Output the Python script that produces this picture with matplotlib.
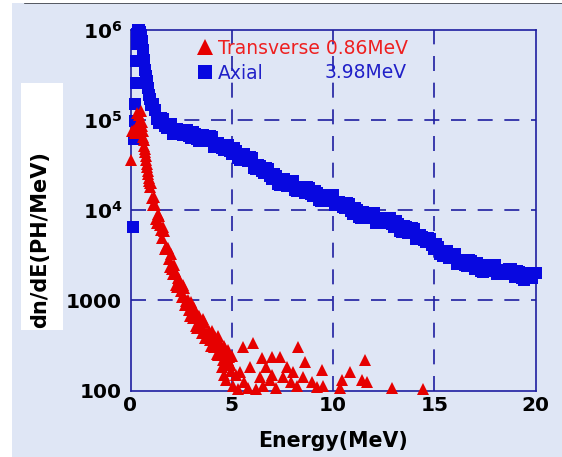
import matplotlib
matplotlib.use("Agg")
import matplotlib.pyplot as plt
from matplotlib.lines import Line2D
from matplotlib.patches import Rectangle
from matplotlib.ticker import FixedLocator, FixedFormatter, NullLocator

# ---------------- data ----------------
# Axial spectrum: low-energy peak and its fall-off
axial_peak_energy = [0.12, 0.17, 0.22, 0.24, 0.26, 0.28, 0.30, 0.33, 0.36, 0.40,
                     0.44, 0.48, 0.52, 0.56, 0.60, 0.65, 0.70, 0.75, 0.85, 0.95]
axial_peak_counts = [6500, 61000, 97000, 150000, 260000, 450000, 700000, 900000,
                     1000000, 960000, 1000000, 940000, 870000, 750000, 600000,
                     470000, 360000, 310000, 225000, 170000]

# Axial spectrum: even 0.2 MeV bins, 0.8 - 20 MeV
axial_energy_a = [0.8, 1.0, 1.2, 1.4, 1.6, 1.8, 2.0, 2.2, 2.4, 2.6,
                  2.8, 3.0, 3.2, 3.4, 3.6, 3.8, 4.0, 4.2, 4.4, 4.6,
                  4.8, 5.0, 5.2, 5.4, 5.6, 5.8, 6.0, 6.2, 6.4, 6.6,
                  6.8, 7.0, 7.2, 7.4, 7.6, 7.8, 8.0, 8.2, 8.4, 8.6,
                  8.8, 9.0, 9.2, 9.4, 9.6, 9.8, 10.0, 10.2, 10.4, 10.6,
                  10.8, 11.0, 11.2, 11.4, 11.6, 11.8, 12.0, 12.2, 12.4, 12.6,
                  12.8, 13.0, 13.2, 13.4, 13.6, 13.8, 14.0, 14.2, 14.4, 14.6,
                  14.8, 15.0, 15.2, 15.4, 15.6, 15.8, 16.0, 16.2, 16.4, 16.6,
                  16.8, 17.0, 17.2, 17.4, 17.6, 17.8, 18.0, 18.2, 18.4, 18.6,
                  18.8, 19.0, 19.2, 19.4, 19.6, 19.8, 20.0]
axial_counts_a = [275000, 147000, 130000, 92000, 102000, 82500, 90000, 71000, 76500, 69000,
                  78000, 64000, 71000, 59000, 68500, 59000, 65000, 50000, 53000, 47000,
                  53000, 42000, 46000, 36000, 42000, 35000, 38000, 29000, 31000, 26000,
                  29000, 22000, 24000, 19000, 22000, 19000, 21000, 16500, 17700, 15700,
                  17700, 14300, 15500, 12600, 14800, 13000, 14600, 11300, 12000, 10500,
                  11700, 9200, 10000, 8100, 9400, 8300, 9300, 7400, 8050, 7200,
                  8100, 6550, 7050, 5700, 6600, 5700, 6250, 4800, 5100, 4400,
                  4850, 3750, 3950, 3080, 3530, 2960, 3250, 2520, 2700, 2420,
                  2760, 2250, 2490, 2050, 2440, 2170, 2460, 1970, 2160, 1960,
                  2240, 1840, 2040, 1690, 2010, 1780, 2020]

# Axial spectrum: odd 0.2 MeV bins, 0.9 - 19.9 MeV
axial_energy_b = [0.9, 1.1, 1.3, 1.5, 1.7, 1.9, 2.1, 2.3, 2.5, 2.7,
                  2.9, 3.1, 3.3, 3.5, 3.7, 3.9, 4.1, 4.3, 4.5, 4.7,
                  4.9, 5.1, 5.3, 5.5, 5.7, 5.9, 6.1, 6.3, 6.5, 6.7,
                  6.9, 7.1, 7.3, 7.5, 7.7, 7.9, 8.1, 8.3, 8.5, 8.7,
                  8.9, 9.1, 9.3, 9.5, 9.7, 9.9, 10.1, 10.3, 10.5, 10.7,
                  10.9, 11.1, 11.3, 11.5, 11.7, 11.9, 12.1, 12.3, 12.5, 12.7,
                  12.9, 13.1, 13.3, 13.5, 13.7, 13.9, 14.1, 14.3, 14.5, 14.7,
                  14.9, 15.1, 15.3, 15.5, 15.7, 15.9, 16.1, 16.3, 16.5, 16.7,
                  16.9, 17.1, 17.3, 17.5, 17.7, 17.9, 18.1, 18.3, 18.5, 18.7,
                  18.9, 19.1, 19.3, 19.5, 19.7, 19.9]
axial_counts_b = [192000, 151000, 103000, 105000, 85000, 90000, 70000, 79000, 70000, 78500,
                  67000, 74500, 61000, 69000, 59000, 66000, 50000, 56000, 48500, 53000,
                  45000, 48600, 37800, 42000, 35700, 38500, 29400, 31900, 27600, 29400,
                  24000, 25400, 19800, 22000, 18800, 21200, 16600, 18300, 16200, 17900,
                  15200, 16400, 13100, 14700, 12800, 14500, 11300, 12500, 10900, 11900,
                  9900, 10600, 8460, 9450, 8180, 9300, 7300, 8240, 7410, 8180,
                  6960, 7510, 5940, 6620, 5640, 6330, 4850, 5300, 4660, 4960,
                  4080, 4270, 3290, 3570, 2960, 3270, 2520, 2790, 2470, 2770,
                  2380, 2610, 2120, 2420, 2120, 2440, 1940, 2200, 2000, 2250,
                  1940, 2140, 1750, 2000, 1750, 2000]

# Transverse spectrum
transverse_energy = [0.02, 0.08, 0.15, 0.20, 0.25, 0.30, 0.35, 0.40, 0.45, 0.50,
                     0.55, 0.58, 0.60, 0.62, 0.65, 0.68, 0.70, 0.72, 0.75, 0.78,
                     0.80, 0.82, 0.85, 0.88, 0.90, 0.92, 0.95, 0.98,
                     1.0, 1.1, 1.2, 1.3, 1.4, 1.5, 1.6, 1.7, 1.8, 1.9,
                     2.0, 2.1, 2.2, 2.3, 2.4, 2.5, 2.6, 2.7, 2.8, 2.9,
                     3.0, 3.1, 3.2, 3.3, 3.4, 3.5, 3.6, 3.7, 3.8, 3.9,
                     4.0, 4.1, 4.2, 4.3, 4.4, 4.5, 4.6, 4.7, 4.8, 4.9, 5.0,
                     1.05, 1.15, 1.25, 1.35, 1.45, 1.55, 1.65, 1.75, 1.85, 1.95,
                     2.05, 2.15, 2.25, 2.35, 2.45, 2.55, 2.65, 2.75, 2.85, 2.95,
                     3.05, 3.15, 3.25, 3.35, 3.45, 3.55, 3.65, 3.75, 3.85, 3.95,
                     4.05, 4.15, 4.25, 4.35, 4.45, 4.55, 4.65, 4.75, 4.85, 4.95,
                     4.3, 4.5, 4.6, 4.7, 4.83, 4.91, 5.07, 5.2, 5.3, 5.4,
                     5.57, 5.6, 5.81, 5.9, 6.06, 6.2, 6.39, 6.47, 6.56, 6.7,
                     6.89, 6.97, 7.0, 7.2, 7.38, 7.54, 7.71, 7.9, 8.04, 8.2,
                     8.28, 8.5, 8.61, 8.97, 9.2, 9.44, 9.52, 10.34, 10.42, 10.83,
                     11.41, 11.57, 11.66, 12.89, 14.45]
transverse_counts = [36000, 76000, 78000, 72000, 80000, 120000, 90000, 115000, 100000, 125000,
                     95000, 85000, 75000, 65000, 60000, 52000, 48000, 44000, 40000, 36000,
                     33000, 30000, 27000, 25000, 23000, 21000, 20000, 18000,
                     20000, 11500, 11500, 7200, 8600, 6000, 6600, 3700, 3800, 2900,
                     3250, 1950, 2100, 1400, 1720, 1280, 1500, 890, 980, 790,
                     960, 630, 710, 500, 670, 510, 625, 380, 430, 365,
                     455, 300, 345, 250, 335, 255, 310, 195, 220, 190, 240,
                     13700, 14000, 8000, 9000, 6900, 4900, 5900, 3900, 3850, 2360,
                     2250, 2470, 1500, 1780, 1420, 1080, 1370, 980, 1020, 670,
                     690, 820, 520, 670, 560, 440, 580, 430, 460, 314,
                     330, 390, 256, 330, 280, 220, 290, 217, 236, 164,
                     400, 180, 150, 130, 280, 196, 112, 150, 105, 160,
                     305, 125, 107, 180, 333, 105, 140, 230, 112, 180,
                     130, 237, 150, 107, 237, 140, 180, 125, 160, 112,
                     305, 140, 209, 124, 110, 168, 112, 107, 130, 161,
                     130, 217, 124, 107, 103]

legend_labels = ["Transverse 0.86MeV", "Axial"]
axial_mean_label = "3.98MeV"

x_ticks = [0, 5, 10, 15, 20]
y_ticks = [1e2, 1e3, 1e4, 1e5, 1e6]
y_tick_labels = ["100", "1000", r"$10^4$", r"$10^5$", r"$10^6$"]

# ---------------- style ----------------
BG = "#dfe6f5"
NAVY = "#1e1ea0"
BLUE = "#0808e0"
RED = "#e60000"

plt.rcParams["font.family"] = ["DejaVu Sans"]
plt.rcParams["mathtext.fontset"] = "dejavusans"
plt.rcParams["mathtext.default"] = "bf"

fig = plt.figure(figsize=(5.62, 4.57), dpi=100, facecolor=BG)

# page decorations: white margin strips, header rule, label panel
fig.patches.append(Rectangle((0, 0), 12 / 562, 1, transform=fig.transFigure,
                             facecolor="white", edgecolor="none", zorder=-1))
fig.patches.append(Rectangle((0, 1 - 2.5 / 457), 1, 2.5 / 457, transform=fig.transFigure,
                             facecolor="white", edgecolor="none", zorder=-1))
fig.add_artist(Line2D([25 / 562, 1], [1 - 3.2 / 457, 1 - 3.2 / 457],
                      transform=fig.transFigure, color="#3c4048", lw=1.2, zorder=-1))
fig.patches.append(Rectangle((21 / 562, 1 - 330 / 457), 42 / 562, 247 / 457,
                             transform=fig.transFigure, facecolor="white",
                             edgecolor="none", zorder=-1))

ax = fig.add_axes([130.5 / 562, 1 - 390.5 / 457, 405.2 / 562, 360.5 / 457])
ax.set_facecolor(BG)
ax.set_yscale("log")
ax.set_xlim(0, 20)
ax.set_ylim(1e2, 1e6)

for s in ax.spines.values():
    s.set_color(NAVY)
    s.set_linewidth(1.2)

# dashed grid at interior decades / 5 MeV steps
for xv in x_ticks[1:-1]:
    ax.axvline(xv, color=NAVY, lw=1.2, ls=(0, (9, 7)), zorder=1)
for yv in y_ticks[1:-1]:
    ax.axhline(yv, color=NAVY, lw=1.2, ls=(0, (9, 7)), zorder=1)

for xs, ys in [(axial_peak_energy, axial_peak_counts),
               (axial_energy_a, axial_counts_a),
               (axial_energy_b, axial_counts_b)]:
    ax.plot(xs, ys, ls="none", marker="s", ms=9.2, color=BLUE, mec=BLUE,
            mew=0, clip_on=False, zorder=3)
ax.plot(transverse_energy, transverse_counts, ls="none", marker="^", ms=9.3,
        color=RED, mec=RED, mew=0, clip_on=False, zorder=4)

ax.xaxis.set_major_locator(FixedLocator(x_ticks))
ax.yaxis.set_major_locator(FixedLocator(y_ticks))
ax.yaxis.set_major_formatter(FixedFormatter(y_tick_labels))
ax.yaxis.set_minor_locator(NullLocator())
ax.tick_params(axis="both", length=0, labelsize=14.5, labelcolor="black")
ax.tick_params(axis="y", pad=6)
ax.tick_params(axis="x", pad=4)
for lab in ax.get_xticklabels() + ax.get_yticklabels():
    lab.set_fontweight("bold")

ax.set_xlabel("Energy(MeV)", fontsize=14.8, fontweight="bold")
ax.xaxis.set_label_coords(0.5, -0.112)
ax.set_ylabel("dn/dE(PH/MeV)", fontsize=15, fontweight="bold")
ax.yaxis.label.set_va("center")
ax.yaxis.set_label_coords(-0.223, 0.42)

handles = [Line2D([], [], ls="none", marker="^", ms=11, color=RED, mew=0),
           Line2D([], [], ls="none", marker="s", ms=10, color=BLUE, mew=0)]
leg = ax.legend(handles, legend_labels, loc="upper left",
                bbox_to_anchor=((197.5 - 130.5) / 405.2, (390.5 - 39) / 360.5),
                frameon=False, fontsize=13.5, handlelength=0.8, handletextpad=0.3,
                borderpad=0, borderaxespad=0, labelspacing=0.3,
                labelcolor=["#ee2020", "#2020c8"])
ax.text((325 - 130.5) / 405.2, (390.5 - 73) / 360.5, axial_mean_label,
        transform=ax.transAxes, fontsize=13.5, color="#2020c8",
        ha="left", va="center")

fig.savefig("out.png", dpi=100, facecolor=BG)
